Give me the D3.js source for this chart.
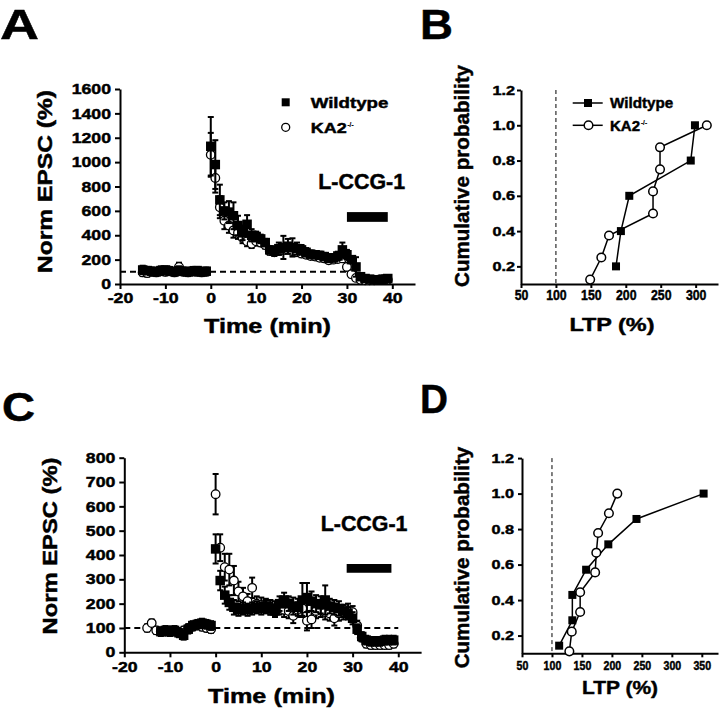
<!DOCTYPE html>
<html>
<head>
<meta charset="utf-8">
<script src="https://cdnjs.cloudflare.com/ajax/libs/d3/7.8.5/d3.min.js"></script>
<style>
body { margin: 0; background: #fff; }
svg text { font-family: "Liberation Sans", Arial, sans-serif; font-weight: bold; fill: #000; stroke: #000; stroke-width: 0.45px; }
</style>
</head>
<body>
<svg width="720" height="709"></svg>
<script>
// EPSC time course (A, C) and cumulative LTP distributions (B, D)

var minutes = [-15,-14,-13,-12,-11,-10,-9,-8,-7,-6,-5,-4,-3,-2,-1,
	0,1,2,3,4,5,6,7,8,9,10,11,12,13,14,15,16,17,18,19,
	20,21,22,23,24,25,26,27,28,29,30,31,32,33,34,35,36,37,38,39];

// panel A
var wtA = [115,110,105,100,110,115,105,100,110,105,100,105,110,100,105,
	1130,980,690,600,590,560,480,420,490,400,390,370,340,280,270,290,300,310,300,290,
	280,260,245,240,235,225,210,215,230,280,240,200,140,60,45,40,35,35,40,45];
var wtA_err = [35,30,30,30,35,30,30,30,35,30,30,35,30,30,30,
	240,200,125,70,90,110,80,60,75,50,40,35,30,30,35,50,95,60,75,50,
	40,35,30,30,30,30,30,30,35,60,40,30,80,25,20,20,20,20,20,20];
var kaA = [95,90,100,95,105,100,110,95,140,100,95,105,100,95,100,
	1060,870,630,520,480,440,420,380,350,330,350,340,320,270,260,270,280,280,270,260,
	250,240,230,225,215,210,195,200,205,210,140,80,50,35,30,30,30,35,40,35];
var kaA_err = [30,30,30,30,30,30,30,30,35,30,30,30,30,30,30,
	180,120,90,70,60,60,50,45,40,35,35,30,30,30,30,30,30,30,30,30,
	30,25,25,25,25,25,25,25,25,25,30,25,20,20,20,20,20,20,20,20];

// panel C
var wtC = [null,null,null,85,90,85,90,80,70,95,110,115,120,115,110,
	425,295,235,205,185,175,180,175,180,185,180,190,180,170,200,215,200,190,185,215,
	225,210,200,195,215,190,185,180,170,160,140,95,65,50,45,45,45,50,50,50];
var wtC_err = [null,null,null,18,18,18,18,18,18,18,18,18,18,18,18,
	60,40,35,30,30,25,25,25,25,25,25,25,25,25,30,30,30,35,35,70,
	60,40,35,35,60,30,30,30,25,25,25,20,18,18,18,18,18,18,18,18];
var kaC = [100,120,90,85,85,90,85,80,90,100,105,110,105,100,95,
	650,430,350,340,295,250,230,210,265,200,195,190,185,180,185,175,170,150,175,180,
	130,135,170,175,165,160,140,160,165,170,165,110,60,35,30,30,30,30,30,35];
var kaC_err = [15,15,15,15,15,15,15,15,15,15,15,15,15,15,15,
	83,55,55,65,60,40,35,30,42,30,30,30,30,30,30,30,30,30,30,30,
	40,35,30,30,30,30,30,30,30,30,25,20,15,15,15,15,15,15,15,15];

// cumulative LTP, panel B
var ltpB_wt = [186,193,205,293,299];
var probB_wt = [0.2,0.4,0.6,0.8,1.0];
var ltpB_ka = [149,165,176,239,239,249,249,316];
var probB_ka = [0.125,0.25,0.375,0.5,0.625,0.75,0.875,1.0];

// cumulative LTP, panel D
var ltpD_wt = [112,134,134,157,194,241,353];
var probD_wt = [0.143,0.286,0.429,0.571,0.714,0.857,1.0];
var ltpD_ka = [129,133,147,147,172,174,177,195,209];
var probD_ka = [0.111,0.222,0.333,0.444,0.556,0.667,0.778,0.889,1.0];

var timeTicks = [-20,-10,0,10,20,30,40];
var ltpTicksB = [50,100,150,200,250,300];
var ltpTicksD = [50,100,150,200,250,300,350];
var probTicks = [0.2,0.4,0.6,0.8,1.0,1.2];

var svg = d3.select("svg");

// widen/narrow tick labels with a horizontal scale about their anchor
function styleAxis(g, size, k){
	g.select(".domain").attr("stroke", "#000").attr("stroke-width", 2);
	g.selectAll(".tick line").attr("stroke", "#000").attr("stroke-width", 2);
	g.selectAll(".tick text").each(function(){
		var t = d3.select(this);
		var x = +t.attr("x") || 0;
		t.attr("x", x / k).attr("transform", "scale(" + k + ",1)");
	})
		.attr("fill", "#000")
		.style("font-family", "'Liberation Sans', Arial, sans-serif")
		.style("font-weight", "bold").style("font-size", size + "px");
}

function label(txt, x, y, size, len, rot, anchor){
	var t = svg.append("text")
		.attr("transform", "translate(" + x + "," + y + ")" + (rot ? " rotate(-90)" : ""))
		.attr("text-anchor", anchor || "middle")
		.style("font-size", size + "px")
		.text(txt);
	if (len) t.attr("textLength", len).attr("lengthAdjust", "spacingAndGlyphs");
	return t;
}

var plain = d => String(d);

function timePanel(p){
	var x = d3.scaleLinear().domain([-20, 45]).range(p.xr);
	var y = d3.scaleLinear().domain([0, p.ymax]).range(p.yr);
	var g = svg.append("g");

	var ax = g.append("g").attr("transform", "translate(0," + p.yr[0] + ")")
		.call(d3.axisBottom(x).tickValues(timeTicks).tickFormat(plain).tickSize(5).tickPadding(4).tickSizeOuter(0));
	styleAxis(ax, 14.5, 1.22);
	var ay = g.append("g").attr("transform", "translate(" + p.xr[0] + ",0)")
		.call(d3.axisLeft(y).ticks(8).tickFormat(plain).tickSize(5).tickPadding(4).tickSizeOuter(0));
	styleAxis(ay, 14.5, 1.22);

	// baseline
	g.append("line")
		.attr("x1", x(-20)).attr("x2", x(p.dashEnd))
		.attr("y1", y(100)).attr("y2", y(100))
		.attr("stroke", "#000").attr("stroke-width", 2).attr("stroke-dasharray", "6,4");

	function series(vals, errs, sq){
		var pts = minutes.map((t, i) => ({t: t, v: vals[i], e: errs[i]})).filter(d => d.v !== null);
		var eb = g.append("g").attr("stroke", "#000").attr("stroke-width", 2);
		pts.forEach(d => {
			var cx = x(d.t);
			eb.append("line").attr("x1", cx).attr("x2", cx).attr("y1", y(d.v - d.e)).attr("y2", y(d.v + d.e));
			eb.append("line").attr("x1", cx - 3).attr("x2", cx + 3).attr("y1", y(d.v + d.e)).attr("y2", y(d.v + d.e));
			eb.append("line").attr("x1", cx - 3).attr("x2", cx + 3).attr("y1", y(d.v - d.e)).attr("y2", y(d.v - d.e));
		});
		if (sq){
			g.append("g").selectAll("rect").data(pts).enter().append("rect")
				.attr("x", d => x(d.t) - 4.75).attr("y", d => y(d.v) - 4.75)
				.attr("width", 9.5).attr("height", 9.5).attr("fill", "#000");
		} else {
			g.append("g").selectAll("circle").data(pts).enter().append("circle")
				.attr("cx", d => x(d.t)).attr("cy", d => y(d.v)).attr("r", 4.3)
				.attr("fill", "#fff").attr("stroke", "#000").attr("stroke-width", 1.3);
		}
	}
	series(p.ka, p.kaErr, false);
	series(p.wt, p.wtErr, true);

	// drug application bar
	g.append("rect")
		.attr("x", x(p.bar[0])).attr("width", x(p.bar[1]) - x(p.bar[0]))
		.attr("y", y(p.barY[1])).attr("height", y(p.barY[0]) - y(p.barY[1]))
		.attr("fill", "#000");
	label("L-CCG-1", p.drugX, p.drugY, 21.4, null, false, "start");
}

function cumPanel(p){
	var x = d3.scaleLinear().domain(p.xd).range(p.xr);
	var y = d3.scaleLinear().domain([0.1, 1.2]).range(p.yr);
	var g = svg.append("g");

	var ax = g.append("g").attr("transform", "translate(0," + p.yr[0] + ")")
		.call(d3.axisBottom(x).tickValues(p.xticks).tickFormat(plain).tickSize(4).tickPadding(p.xpad).tickSizeOuter(0));
	styleAxis(ax, p.xfont, p.xk);
	var ay = g.append("g").attr("transform", "translate(" + p.xr[0] + ",0)")
		.call(d3.axisLeft(y).tickValues(probTicks).tickFormat(d3.format(".1f")).tickSize(4).tickPadding(p.ypad).tickSizeOuter(0));
	styleAxis(ay, 13, 1.25);

	g.append("line")
		.attr("x1", x(100)).attr("x2", x(100))
		.attr("y1", y(1.2)).attr("y2", y(0.1))
		.attr("stroke", "#000").attr("stroke-width", 1).attr("stroke-dasharray", "4,3");

	var line = d3.line().x(d => x(d[0])).y(d => y(d[1]));
	var ka = p.kaX.map((v, i) => [v, p.kaY[i]]);
	var wt = p.wtX.map((v, i) => [v, p.wtY[i]]);
	g.append("path").attr("d", line(ka)).attr("fill", "none").attr("stroke", "#000").attr("stroke-width", 1.5);
	g.append("path").attr("d", line(wt)).attr("fill", "none").attr("stroke", "#000").attr("stroke-width", 1.5);
	g.append("g").selectAll("circle").data(ka).enter().append("circle")
		.attr("cx", d => x(d[0])).attr("cy", d => y(d[1])).attr("r", 4.3)
		.attr("fill", "#fff").attr("stroke", "#000").attr("stroke-width", 1.5);
	g.append("g").selectAll("rect").data(wt).enter().append("rect")
		.attr("x", d => x(d[0]) - 4).attr("y", d => y(d[1]) - 4)
		.attr("width", 8).attr("height", 8).attr("fill", "#000");
}

// ---- Panel A
timePanel({xr: [120, 415], yr: [284, 89], ymax: 1600, wt: wtA, wtErr: wtA_err, ka: kaA, kaErr: kaA_err,
	dashEnd: 31, bar: [30, 39], barY: [510, 590], drugX: 318.3, drugY: 189.3});
label("Norm EPSC (%)", 52, 181.5, 20, 183, true);
label("Time (min)", 267.5, 333, 20, 127);

// legend A
svg.append("rect").attr("x", 281.7).attr("y", 98.3).attr("width", 8).attr("height", 8).attr("fill", "#000");
svg.append("circle").attr("cx", 285.7).attr("cy", 127.3).attr("r", 4).attr("fill", "#fff").attr("stroke", "#000").attr("stroke-width", 1.3);
label("Wildtype", 310.7, 107.8, 15, 77.7, false, "start");
label("KA2", 310.7, 132.6, 15, 36, false, "start");
label("-/-", 347.5, 127, 8, 6, false, "start").style("stroke-width", "0.2px");

// ---- Panel B
cumPanel({xd: [50, 332], xr: [521, 718], yr: [284, 90], xticks: ltpTicksB, xpad: 1.5, xfont: 14.5, xk: 0.85, ypad: 2,
	wtX: ltpB_wt, wtY: probB_wt, kaX: ltpB_ka, kaY: probB_ka});
label("Cumulative probability", 469, 176, 20.5, 222, true);
label("LTP (%)", 612, 331, 19, 85);

// legend B
svg.append("line").attr("x1", 572.7).attr("x2", 602.7).attr("y1", 103).attr("y2", 103).attr("stroke", "#000").attr("stroke-width", 1.5);
svg.append("rect").attr("x", 584).attr("y", 99).attr("width", 8).attr("height", 8).attr("fill", "#000");
svg.append("line").attr("x1", 572.7).attr("x2", 602.7).attr("y1", 125.3).attr("y2", 125.3).attr("stroke", "#000").attr("stroke-width", 1.5);
svg.append("circle").attr("cx", 588.5).attr("cy", 125.3).attr("r", 4.3).attr("fill", "#fff").attr("stroke", "#000").attr("stroke-width", 1.5);
label("Wildtype", 610, 108.3, 15, 63.3, false, "start");
label("KA2", 610, 130.5, 15, null, false, "start");
label("-/-", 641, 124.5, 8, 6, false, "start").style("stroke-width", "0.2px");

// ---- Panel C
timePanel({xr: [124.3, 421.1], yr: [652.3, 457.7], ymax: 800, wt: wtC, wtErr: wtC_err, ka: kaC, kaErr: kaC_err,
	dashEnd: 40, bar: [28.7, 38.5], barY: [327, 363], drugX: 320.7, drugY: 531});
label("Norm EPSC (%)", 57, 546, 20, 177, true);
label("Time (min)", 271.5, 703, 20, 127);

// ---- Panel D
cumPanel({xd: [50, 377], xr: [522, 718], yr: [653.3, 458.1], xticks: ltpTicksD, xpad: 4, xfont: 12.5, xk: 0.85, ypad: 4,
	wtX: ltpD_wt, wtY: probD_wt, kaX: ltpD_ka, kaY: probD_ka});
label("Cumulative probability", 469, 557.5, 20.5, 221.6, true);
label("LTP (%)", 620, 694, 19, 76);

// panel letters
label("A", 0, 39.3, 43, 39, false, "start");
label("B", 420, 39, 43, 33, false, "start");
label("C", 2, 421, 40, 33, false, "start");
label("D", 420, 413, 40, 28, false, "start");
</script>
</body>
</html>
